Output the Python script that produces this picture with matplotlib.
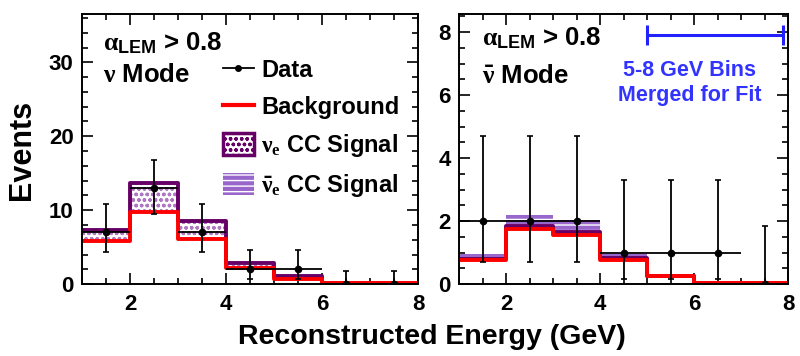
import numpy as np
import matplotlib
matplotlib.use("Agg")
import matplotlib.pyplot as plt
from matplotlib.lines import Line2D
from matplotlib.patches import Patch
from matplotlib.legend_handler import HandlerTuple
from matplotlib.ticker import MultipleLocator

plt.rcParams['font.family'] = ['Liberation Sans', 'DejaVu Sans']
plt.rcParams['font.weight'] = 'bold'
plt.rcParams['mathtext.fontset'] = 'custom'
plt.rcParams['mathtext.rm'] = 'Liberation Sans:bold'
plt.rcParams['mathtext.bf'] = 'Liberation Sans:bold'
plt.rcParams['mathtext.it'] = 'Liberation Serif'
plt.rcParams['hatch.linewidth'] = 1.0

# energy bins (GeV)
edges = [1, 2, 3, 4, 5, 6, 7, 8]
centers = [1.5, 2.5, 3.5, 4.5, 5.5, 6.5, 7.5]

# neutrino mode
data_nu = [7, 13, 7, 2, 2, 0, 0]
data_nu_lo = [4.3, 9.5, 4.3, 0.7, 0.7, 0, 0]
data_nu_hi = [10.8, 16.8, 10.8, 4.6, 4.6, 1.8, 1.8]
bkg_nu = [5.8, 9.7, 6.1, 2.2, 0.7, 0.15, 0.15]
nue_nu = [1.5, 4.0, 2.5, 0.7, 0.4, 0.05, 0.05]
nuebar_nu = [0.0, 0.0, 0.0, 0.0, 0.0, 0.0, 0.0]

# antineutrino mode
data_nb = [2, 2, 2, 1, 1, 1, 0]
data_nb_lo = [0.7, 0.7, 0.7, 0.17, 0.17, 0.17, 0]
data_nb_hi = [4.7, 4.7, 4.7, 3.3, 3.3, 3.3, 1.85]
bkg_nb = [0.75, 1.75, 1.57, 0.75, 0.25, 0.03, 0.03]
nue_nb = [0.05, 0.1, 0.1, 0.08, 0.02, 0.0, 0.0]
nuebar_nb = [0.15, 0.35, 0.35, 0.12, 0.06, 0.0, 0.0]

dark_purple = '#660066'
light_purple = '#9966cc'
hatch_purple = '#b077c4'


def draw_panel(ax, data, lo, hi, bkg, nue, nuebar):
    b = np.append(bkg, bkg[-1])
    s1 = b + np.append(nue, nue[-1])
    s2 = s1 + np.append(nuebar, nuebar[-1])
    ax.fill_between(edges, b, s1, step='post', facecolor='white',
                    edgecolor=hatch_purple, hatch='ooo', lw=0)
    ax.step(edges, s1, where='post', color=dark_purple, lw=2.8)
    ax.fill_between(edges, s1, s2, step='post', facecolor=light_purple,
                    edgecolor='white', hatch='---', lw=0)
    ax.step(edges, b, where='post', color='red', lw=2.8)

    yerr = [np.array(data) - np.array(lo), np.array(hi) - np.array(data)]
    ax.errorbar(centers, data, xerr=0.5, fmt='none', ecolor='black', elinewidth=1.3)
    ax.errorbar(centers, data, yerr=yerr, fmt='o', color='black', ms=4.5,
                elinewidth=1.3, capsize=2, capthick=1.2)

    ax.set_xlim(1, 8)
    ax.xaxis.set_major_locator(MultipleLocator(2))
    ax.xaxis.set_minor_locator(MultipleLocator(0.5))
    ax.tick_params(which='both', direction='in', top=True, right=True,
                   labelsize=16, width=1.2)
    ax.tick_params(which='major', length=8)
    ax.tick_params(which='minor', length=4.5)
    ax.tick_params(axis='x', pad=7)
    ax.tick_params(axis='y', pad=6)
    for sp in ax.spines.values():
        sp.set_linewidth(1.4)


fig = plt.figure(figsize=(8, 3.56), dpi=100)
ax1 = fig.add_axes([0.1025, 0.202, 0.42, 0.758])
ax2 = fig.add_axes([0.574, 0.202, 0.411, 0.758])

draw_panel(ax1, data_nu, data_nu_lo, data_nu_hi, bkg_nu, nue_nu, nuebar_nu)
ax1.set_ylim(0, 36.5)
ax1.yaxis.set_major_locator(MultipleLocator(10))
ax1.yaxis.set_minor_locator(MultipleLocator(2))

draw_panel(ax2, data_nb, data_nb_lo, data_nb_hi, bkg_nb, nue_nb, nuebar_nb)
ax2.set_ylim(0, 8.57)
ax2.yaxis.set_major_locator(MultipleLocator(2))
ax2.yaxis.set_minor_locator(MultipleLocator(0.5))

# labels inside panels
ax1.text(0.0625, 0.867, r'$\alpha_{\mathrm{LEM}}$ > 0.8', transform=ax1.transAxes,
         fontsize=18.5, va='baseline')
ax1.text(0.0625, 0.748, r'$\nu$ Mode', transform=ax1.transAxes,
         fontsize=18.5, va='baseline')
ax2.text(0.07, 0.885, r'$\alpha_{\mathrm{LEM}}$ > 0.8', transform=ax2.transAxes,
         fontsize=18.5, va='baseline')
ax2.text(0.07, 0.744, r'$\bar{\nu}$ Mode', transform=ax2.transAxes,
         fontsize=18.5, va='baseline')

# merged bins marker
eb = ax2.errorbar([6.45], [7.9], xerr=1.45, fmt='none', ecolor='#2222ff',
                  elinewidth=2.2, capsize=7, capthick=2.2)
for art in list(eb.lines[1]) + list(eb.lines[2]):
    art.set_clip_on(False)
ax2.text(5.9, 6.4, '5-8 GeV Bins\nMerged for Fit', color='#3333ff',
         fontsize=15.5, ha='center', va='center', linespacing=1.25)

# legend
h_data = Line2D([], [], color='black', marker='o', ms=4, lw=1.3)
h_bkg = Line2D([], [], color='red', lw=3)
h_nue = Patch(facecolor='white', edgecolor=dark_purple, hatch='ooo', lw=2.5)
h_nb = (Patch(facecolor=light_purple, edgecolor=light_purple, lw=0),
        Patch(facecolor='none', edgecolor='white', hatch='---', lw=0))
ax1.legend([h_data, h_bkg, h_nue, h_nb],
           ['Data', 'Background', r'$\nu_{\mathit{e}}$ CC Signal',
            r'$\bar{\nu}_{\mathit{e}}$ CC Signal'],
           handler_map={tuple: HandlerTuple(ndivide=1, pad=0)},
           loc='upper left', bbox_to_anchor=(0.42, 0.835), frameon=False,
           fontsize=17, borderpad=0, borderaxespad=0, handlelength=1.3,
           handleheight=1.0, handletextpad=0.3, labelspacing=0.55)

fig.text(0.0275, 0.58, 'Events', rotation=90, fontsize=22, ha='center', va='center')
fig.text(0.54, 0.052, 'Reconstructed Energy (GeV)', fontsize=20.5, ha='center', va='center')

fig.savefig('out.png', dpi=100)
